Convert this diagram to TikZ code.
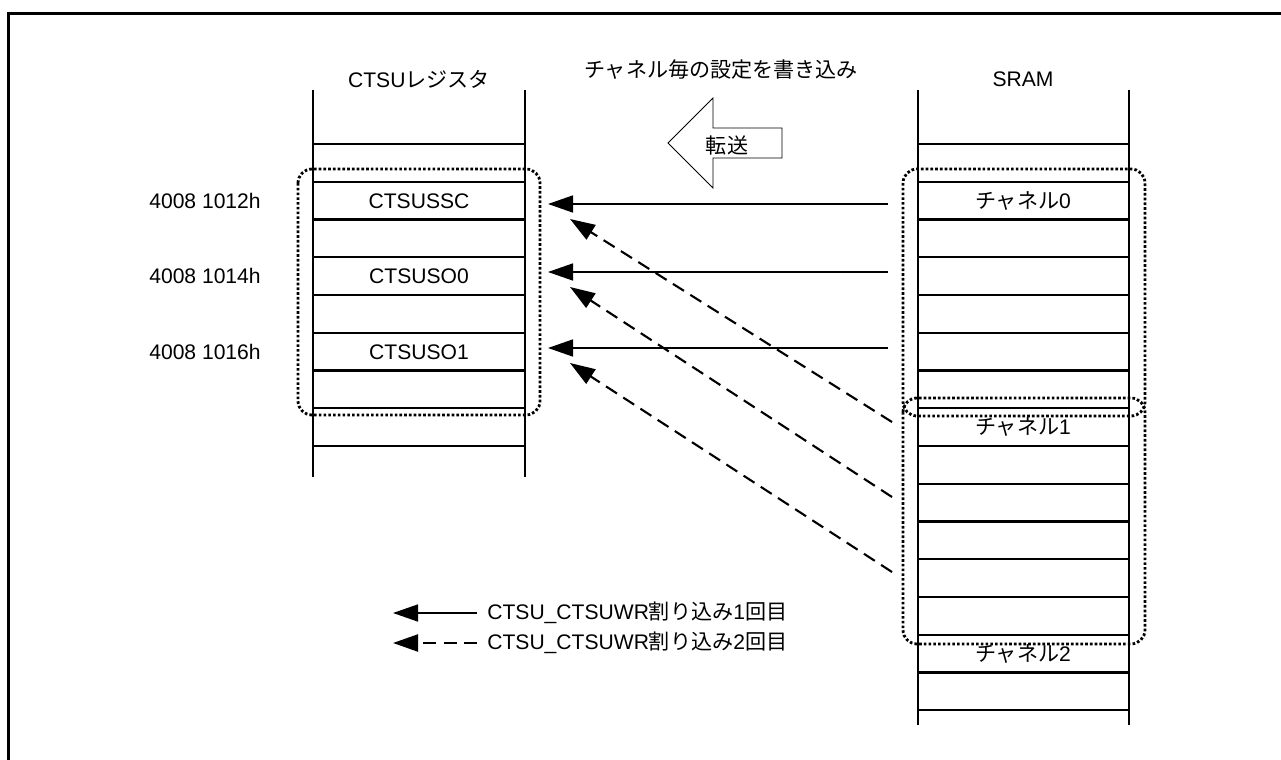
\documentclass[tikz,border=0pt]{standalone}
\usepackage{fontspec}
\setmainfont{Liberation Sans}
\newfontfamily\jp{Noto Sans CJK JP}
\usepackage{tikz}
\usetikzlibrary{arrows.meta, positioning}

\begin{document}
\begin{tikzpicture}[
        x=0.02cm, y=-0.02cm,
        font=\fontsize{12}{14}\selectfont,
        txt/.style={inner sep=0pt},
        frameline/.style={line width=1.8pt},
        cell/.style={line width=1.3pt},
        group/.style={line width=1.6pt, dash pattern=on 1.5pt off 1.2pt, rounded corners=8pt},
        xfer/.style={line width=0.45pt},
        wrfirst/.style={-{Triangle[length=0.5cm, width=0.34cm]}, line width=0.9pt},
        wrsecond/.style={wrfirst, line width=1.2pt, dash pattern=on 0.26cm off 0.15cm}
    ]
    \useasboundingbox (0,0) rectangle (1281,760);

    % outer frame
    \draw[frameline] (8.5,780) -- (8.5,13.5) -- (1300,13.5);

    % register and SRAM columns
    \draw[cell] (313,90) -- (313,477);
    \draw[cell] (525,90) -- (525,477);
    \foreach \k in {0,...,8}
        \draw[cell] (313,144+37.75*\k) -- (525,144+37.75*\k);
    \draw[cell] (918,90) -- (918,725);
    \draw[cell] (1129,90) -- (1129,725);
    \foreach \k in {0,...,15}
        \draw[cell] (918,144+37.75*\k) -- (1129,144+37.75*\k);

    % titles
    \node[txt] (regtitle) at (419,79) {CTSU{\jp レジスタ}};
    \node[txt] (sramtitle) at (1023,79) {SRAM};
    \node[txt] (caption) at (721,70) {{\jp チャネル毎の設定を書き込み}};

    % registers
    \node[txt] (ssc) at (419,201) {CTSUSSC};
    \node[txt] (so0) at (419,276) {CTSUSO0};
    \node[txt] (so1) at (419,352) {CTSUSO1};
    \node[txt] (addrssc) at (205,201) {4008 1012h};
    \node[txt] (addrso0) at (205,276) {4008 1014h};
    \node[txt] (addrso1) at (205,352) {4008 1016h};

    % channels
    \node[txt] (ch0) at (1023,201) {{\jp チャネル}0};
    \node[txt] (ch1) at (1023,427) {{\jp チャネル}1};
    \node[txt] (ch2) at (1023,654) {{\jp チャネル}2};

    % groups
    \draw[group] (298,169) rectangle (540,415);
    \draw[group] (903,169) rectangle (1145,416);
    \draw[group] (903,398) rectangle (1145,644);

    % transfer arrow
    \draw[xfer] (668,143) -- (713,98) -- (713,128) -- (782,128) -- (782,158)
        -- (713,158) -- (713,188) -- cycle;
    \node[txt] (xfertxt) at (727,145) {{\jp 転送}};

    % first interrupt
    \coordinate (srca) at (888,204);
    \coordinate (srcb) at (888,272);
    \coordinate (srcc) at (888,348);
    \coordinate (dsta) at (548,204);
    \coordinate (dstb) at (548,272);
    \coordinate (dstc) at (548,348);
    \draw[wrfirst] (srca) -- (dsta);
    \draw[wrfirst] (srcb) -- (dstb);
    \draw[wrfirst] (srcc) -- (dstc);

    % second interrupt
    \coordinate (srcd) at (892,422);
    \coordinate (srce) at (892,497);
    \coordinate (srcf) at (892,572);
    \coordinate (dstd) at (570,219);
    \coordinate (dste) at (570,287);
    \coordinate (dstf) at (570,363);
    \draw[wrsecond] (srcd) -- (dstd);
    \draw[wrsecond] (srce) -- (dste);
    \draw[wrsecond] (srcf) -- (dstf);

    % legend
    \coordinate (legafrom) at (477,613);
    \coordinate (legato) at (393,613);
    \coordinate (legbfrom) at (477,643);
    \coordinate (legbto) at (393,643);
    \draw[wrfirst] (legafrom) -- (legato);
    \draw[wrsecond] (legbfrom) -- (legbto);
    \node[txt, anchor=west] (lega) at (487,613) {CTSU\_CTSUWR{\jp 割り込み}1{\jp 回目}};
    \node[txt, anchor=west] (legb) at (487,643) {CTSU\_CTSUWR{\jp 割り込み}2{\jp 回目}};

\end{tikzpicture}
\end{document}
